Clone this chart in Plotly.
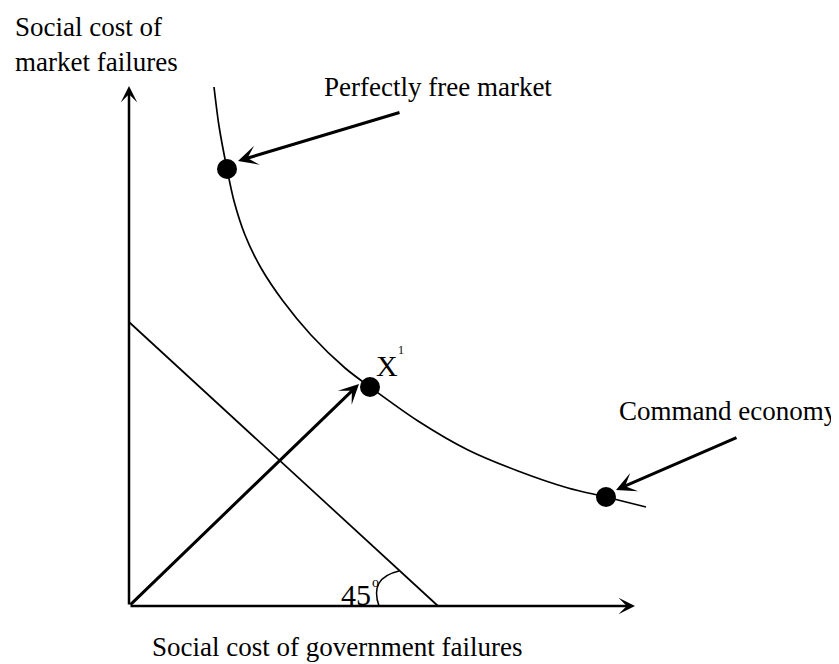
import plotly.graph_objects as go

# ---- data (units: chart coordinates, origin at the axes corner) ----
curve_x = [85, 90, 98, 105, 116, 132, 154, 182, 216, 241, 289, 339, 389, 439, 477, 517]
curve_y = [519, 480, 437, 405, 371, 338, 305, 271, 238, 219, 185, 156, 135, 118, 109, 99]

dot_labels = ["Perfectly free market", "X1", "Command economy"]
dot_x = [98, 241, 477]
dot_y = [437, 219, 109]

axis_x_end = 506
axis_y_end = 520
line45_x = [0, 309]
line45_y = [284, 0]

FONT = "Liberation Serif"

fig = go.Figure()

# curve
fig.add_trace(go.Scatter(x=curve_x, y=curve_y, mode="lines",
                         line=dict(color="black", width=1.7, shape="spline", smoothing=0.8),
                         hoverinfo="skip", showlegend=False))
# 45 degree line
fig.add_trace(go.Scatter(x=line45_x, y=line45_y, mode="lines",
                         line=dict(color="black", width=1.7),
                         hoverinfo="skip", showlegend=False))
# dots
fig.add_trace(go.Scatter(x=dot_x, y=dot_y, mode="markers", text=dot_labels,
                         marker=dict(color="black", size=20),
                         hoverinfo="text", showlegend=False))

# angle arc
fig.add_shape(type="path", path="M 250,0 Q 240,28 270,35",
              line=dict(color="black", width=1.5))

def arrow(x, y, ax, ay, w):
    fig.add_annotation(x=x, y=y, ax=ax, ay=ay, xref="x", yref="y",
                       axref="x", ayref="y", text="", showarrow=True,
                       arrowhead=3, arrowsize=1.1, arrowwidth=w,
                       arrowcolor="black", standoff=0)

# axes
arrow(0, axis_y_end, 0, 0, 2.5)
arrow(axis_x_end, 0, 0, 0, 2.5)
# ray from origin to X1
arrow(230, 222, 0, 0, 3)
# pointers
arrow(109, 445, 272, 494, 3)
arrow(487, 116, 609, 169, 3)

def label(x, y, text, size, xanchor="center", yanchor="middle", align="left"):
    fig.add_annotation(x=x, y=y, xref="x", yref="y", text=text, showarrow=False,
                       xanchor=xanchor, yanchor=yanchor, align=align,
                       font=dict(family=FONT, size=size, color="black"))

label(51, 562, "Social cost of<br>market failures", 27, xanchor="right")
label(309, 519, "Perfectly free market", 27)
label(711, 195, "Command economy", 27, xanchor="right")
label(21, -41, "Social cost of government failures", 27, xanchor="left")
label(245, 241, "X", 30, xanchor="left")
label(272, 256, "1", 12)
label(244, 12, "45", 30, xanchor="right")
label(246, 24, "o", 14)

fig.update_layout(
    width=839, height=664,
    margin=dict(l=0, r=0, t=0, b=0),
    paper_bgcolor="white", plot_bgcolor="white",
    xaxis=dict(range=[-121, 718], visible=False, fixedrange=True),
    yaxis=dict(range=[-66, 598], visible=False, fixedrange=True),
    showlegend=False,
)

fig.write_html("out.html")
